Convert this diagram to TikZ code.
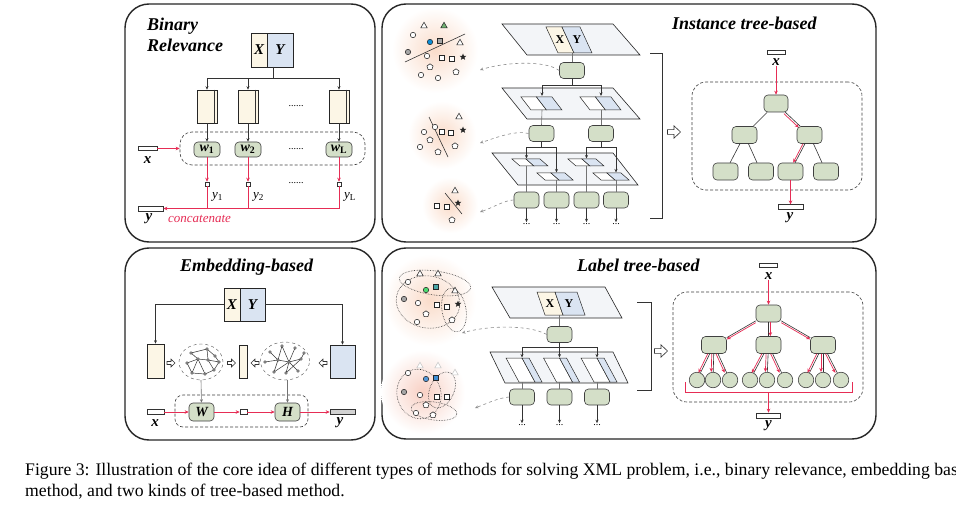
\documentclass[tikz,border=0pt]{standalone}
\usepackage{fontspec}
\setmainfont{Liberation Serif}
\usetikzlibrary{arrows.meta,shapes.geometric,calc}
\definecolor{cream}{RGB}{252,246,230}
\definecolor{lblue}{RGB}{218,228,242}
\definecolor{ngreen}{RGB}{212,223,200}
\definecolor{planec}{RGB}{243,245,248}
\definecolor{cred}{RGB}{230,45,85}
\definecolor{glow}{RGB}{250,220,202}
\definecolor{glowb}{RGB}{248,208,196}
\newcommand\mypara[6][cell]{\draw[#1] (#2,#3) -- ++(#4,0) -- ++(#6,#5) -- ++(-#4,0) -- cycle;}
\newcommand\hollowarr[4][1]{\draw[black!80,fill=white,line width=0.6pt,shift={(#2,#3)},rotate=#4,scale=#1] (-6.5,-2.4) -- (0,-2.4) -- (0,-6.2) -- (6.5,0) -- (0,6.2) -- (0,2.4) -- (-6.5,2.4) -- cycle;}
\newcommand\mk[3]{\node[#1] at (#2,#3) {};}
\newcommand\wsub[1]{{\bfseries\itshape w}\textsubscript{\bfseries #1}}
\begin{document}
\begin{tikzpicture}[x=1pt,y=-1pt,
  panel/.style={draw=black!85,line width=1.4pt,rounded corners=24pt},
  ttl/.style={font=\fontsize{18}{20}\selectfont\bfseries\itshape,inner sep=0},
  ln/.style={draw=black!80,line width=0.6pt},
  gln/.style={draw=black!55,line width=0.6pt},
  arr/.style={ln,-{Stealth[length=3.5pt,width=3pt]}},
  garr/.style={gln,-{Stealth[length=3.5pt,width=3pt]}},
  redarr/.style={draw=cred,line width=0.7pt,-{Stealth[length=4pt,width=3.5pt]}},
  redline/.style={draw=cred,line width=0.7pt},
  gnode/.style={draw=black!75,fill=ngreen,rounded corners=4pt,minimum width=25pt,minimum height=17pt,inner sep=0,line width=0.6pt,font=\fontsize{14}{14}\selectfont},
  leaf/.style={circle,draw=black!75,fill=ngreen,minimum size=15.5pt,inner sep=0,line width=0.6pt},
  dashbox/.style={draw=black!75,rounded corners=12pt,line width=0.6pt,dash pattern=on 3pt off 2pt},
  vec/.style={draw=black!80,fill=white,line width=0.6pt,inner sep=0,minimum height=4.5pt},
  sq/.style={draw=black!80,fill=white,line width=0.5pt,minimum size=4pt,inner sep=0},
  lbl/.style={font=\fontsize{15}{15}\selectfont\bfseries\itshape,inner sep=0},
  ylab/.style={font=\fontsize{13}{13}\selectfont,inner sep=0,anchor=west},
  ddd/.style={font=\fontsize{10}{10}\selectfont,inner sep=1pt},
  plane/.style={draw=black!85,fill=planec,line width=0.6pt},
  cell/.style={draw=black!85,fill=white,line width=0.5pt},
  xyx/.style={draw=black!85,fill=cream,minimum width=16pt,minimum height=34pt,inner sep=0,line width=0.6pt,font=\fontsize{15}{15}\selectfont\bfseries\itshape},
  xyy/.style={xyx,fill=lblue,minimum width=26pt},
  tbox/.style={draw=black!85,fill=cream,minimum width=20pt,minimum height=33pt,inner sep=0,line width=0.6pt},
  dgarr/.style={draw=black!45,dashed,line width=0.6pt,-{Stealth[length=3.5pt,width=3pt]}},
  mc/.style={circle,draw=black!85,fill=white,line width=0.55pt,minimum size=5.4pt,inner sep=0},
  mt/.style={regular polygon,regular polygon sides=3,draw=black!85,fill=white,line width=0.55pt,minimum size=7.5pt,inner sep=0},
  ms/.style={rectangle,draw=black!85,fill=white,line width=0.55pt,minimum size=5.4pt,inner sep=0},
  mst/.style={star,star points=5,star point ratio=2.3,fill=black!85,minimum size=7pt,inner sep=0},
  mp/.style={regular polygon,regular polygon sides=5,draw=black!85,fill=white,line width=0.55pt,minimum size=6.4pt,inner sep=0},
  dotell/.style={draw=black!80,densely dotted,line width=0.6pt},
  gedge/.style={draw=black!80,line width=0.5pt}
]
\useasboundingbox (0,0) rectangle (956,508);
\fill[white] (0,0) rectangle (956,508);

%================ Binary Relevance =================
\draw[panel] (125,4) rectangle (375,242);
\node[ttl,anchor=base west] (br-t1) at (147,31) {Binary};
\node[ttl,anchor=base west] (br-t2) at (147,52) {Relevance};
\node[xyx] (br-X) at (259,50) {X};
\node[xyy] (br-Y) at (280,50) {Y};
\coordinate (br-top) at (273,67);
\coordinate (br-j) at (273,78);
\node[tbox] (br-b1) at (207,106.5) {};
\node[tbox] (br-b2) at (248,106.5) {};
\node[tbox] (br-b3) at (339,106.5) {};
\foreach \b in {br-b1,br-b2,br-b3}
  \draw[ln] ([xshift=-3pt]\b.north east) -- ([xshift=-3pt]\b.south east);
\draw[ln] (br-top) -- (br-j);
\foreach \b in {br-b1,br-b2,br-b3} \draw[arr] (br-j) -| (\b.north);
\node[ddd] (br-d1) at (296,106) {......};
\node[dashbox,minimum width=185pt,minimum height=33pt] (br-box) at (272.5,148.5) {};
\node[gnode,minimum width=26pt,minimum height=15pt] (br-w1) at (207,149.5) {\wsub{1}};
\node[gnode,minimum width=26pt,minimum height=15pt] (br-w2) at (248,149.5) {\wsub{2}};
\node[gnode,minimum width=26pt,minimum height=15pt] (br-w3) at (339,149.5) {\wsub{L}};
\foreach \i in {1,2,3} \draw[arr] (br-b\i) -- (br-w\i);
\node[ddd] (br-d2) at (296,149) {......};
\node[vec,minimum width=19pt] (br-x) at (147.5,148.5) {};
\node[lbl] (br-xl) at (147.5,160) {x};
\draw[redarr] (br-x.east) -- (br-box.west);
\node[sq] (br-s1) at (207,184) {};
\node[sq] (br-s2) at (248,184) {};
\node[sq] (br-s3) at (339,184) {};
\foreach \i in {1,2,3} \draw[redarr] (br-w\i) -- (br-s\i);
\node[ddd] (br-d3) at (296,183) {......};
\node[vec,minimum width=25pt,minimum height=5pt] (br-y) at (150.5,208.5) {};
\node[lbl] (br-yl) at (149,219) {y};
\draw[redarr] (br-s3.south) |- (br-y.east);
\draw[redline] (br-s1.south) -- (br-s1.south |- br-y.east);
\draw[redline] (br-s2.south) -- (br-s2.south |- br-y.east);
\node[ylab] (br-y1) at (212,197) {\textit{y}\textsubscript{1}};
\node[ylab] (br-y2) at (253,197) {\textit{y}\textsubscript{2}};
\node[ylab] (br-y3) at (344,197) {\textit{y}\textsubscript{L}};
\node[font=\fontsize{13}{13}\selectfont\itshape,text=cred,anchor=west,inner sep=0] (br-cc) at (168,218.5) {concatenate};

%================ Embedding-based =================
\draw[panel] (125,248) rectangle (375,440);
\node[ttl,anchor=base west] (em-t) at (180,271) {Embedding-based};
\node[xyx,minimum height=33pt] (em-X) at (232,304.5) {X};
\node[xyy,minimum width=25pt,minimum height=33pt] (em-Y) at (252.5,304.5) {Y};
\node[tbox,minimum width=17pt,minimum height=34pt] (em-L) at (155.5,361) {};
\node[tbox,fill=lblue,minimum width=25pt,minimum height=33pt] (em-R) at (342.5,361.5) {};
\node[tbox,minimum width=8pt,minimum height=33pt] (em-M) at (243,361.5) {};
\draw[arr] (em-X.west) -| (em-L.north);
\draw[arr] (em-Y.east) -| (em-R.north);
\node[ellipse,draw=black!70,dashed,minimum width=44pt,minimum height=36pt,inner sep=0] (em-e1) at (201,362) {};
\node[ellipse,draw=black!70,dashed,minimum width=49pt,minimum height=38pt,inner sep=0] (em-e2) at (285,361) {};
\hollowarr[0.62]{171}{363}{0}
\hollowarr[0.62]{231.5}{363}{0}
\hollowarr[0.62]{255}{363}{180}
\hollowarr[0.62]{323}{363}{180}
\begin{scope}[shift={(201,362)}]
  \draw[gedge] (-10,-9) -- (6,-13) -- (14,-6) -- (18,0) -- (13,8) -- (4,12) -- (-9,11) -- (-14,1) -- (-3,-3) -- (-10,-9);
  \draw[gedge] (6,-13) -- (7,-2) -- (-3,-3) -- (4,12);
  \draw[gedge] (7,-2) -- (13,8); \draw[gedge] (7,-2) -- (18,0); \draw[gedge] (-3,-3) -- (-9,11);
  \foreach \x/\y in {-10/-9,6/-13,14/-6,18/0,13/8,4/12,-9/11,-14/1,-3/-3,7/-2}
    \draw[fill=white,line width=0.4pt] (\x,\y) circle (1.3);
\end{scope}
\begin{scope}[shift={(285,361)}]
  \draw[gedge] (-15,-9) -- (-7,-1) -- (-20,1);
  \draw[gedge] (-3,-15) -- (-7,-1) -- (4,1) -- (10,-13);
  \draw[gedge] (-3,-15) -- (4,1) -- (16,-2) -- (19,-8);
  \draw[gedge] (-7,-1) -- (-11,11); \draw[gedge] (4,1) -- (1,12) -- (16,-2);
  \draw[gedge] (4,1) -- (13,10); \draw[gedge] (-11,11) -- (4,1);
  \foreach \x/\y in {-15/-9,-3/-15,10/-13,19/-8,-20/1,-7/-1,4/1,16/-2,-11/11,1/12,13/10}
    \draw[fill=white,line width=0.4pt] (\x,\y) circle (1.3);
\end{scope}
\node[dashbox,minimum width=133pt,minimum height=32pt,rounded corners=8pt] (em-box) at (241.5,411) {};
\node[gnode,minimum height=18pt] (em-W) at (201.5,412) {\bfseries\itshape W};
\node[gnode,minimum height=18pt] (em-H) at (287.5,412) {\bfseries\itshape H};
\draw[garr] (em-e1.south) -- (em-W.north);
\draw[garr] (em-e2.south -| em-H.north) -- (em-H.north);
\node[vec,minimum width=17pt] (em-x) at (155.5,412) {};
\node[vec,minimum width=7pt] (em-m) at (243.5,412) {};
\node[vec,minimum width=25pt,minimum height=5pt,fill=gray!35] (em-y) at (342.5,412) {};
\draw[redarr] (em-x.east) -- (em-W.west);
\draw[redarr] (em-W.east) -- (em-m.west);
\draw[redarr] (em-m.east) -- (em-H.west);
\draw[redarr] (em-H.east) -- (em-y.west);
\node[lbl] (em-xl) at (155,423) {x};
\node[lbl] (em-yl) at (340,423) {y};

%================ Instance tree-based =================
\draw[panel] (382,4) rectangle (876,242);
\node[ttl,anchor=base west] (it-t) at (672,30) {Instance tree-based};
% clouds
\shade[inner color=glow,outer color=white] (435,50) circle (43);
\shade[inner color=glow,outer color=white] (442,135) circle (34);
\shade[inner color=glow,outer color=white] (450,205) circle (28);
\draw[ln] (405,62) -- (465,34);
\mk{mt}{424}{26} \mk{mt,fill=green!45!black!55}{444}{26} \mk{mc}{413}{35}
\mk{mc,fill=cyan!75!blue}{430}{42} \mk{ms,fill=gray!70}{440}{41} \mk{mt}{460}{43}
\mk{mc,fill=gray!70}{408}{52} \mk{mc}{427}{56} \mk{ms}{442}{58} \mk{ms}{452}{59}
\mk{mst}{463}{57} \mk{mp}{430}{67} \mk{mc}{421}{75} \mk{mc}{438}{78} \mk{mp}{456}{72}
\draw[ln] (429,117) -- (448,157);
\mk{mt}{459}{117} \mk{mc}{435}{127} \mk{ms}{442}{132} \mk{ms}{451}{133} \mk{mst}{463}{130}
\mk{mc}{424}{132} \mk{mp}{430}{140} \mk{mc}{420}{147} \mk{mp}{438}{152} \mk{mp}{455}{146}
\draw[ln] (445,193) -- (462,214);
\mk{mt}{455}{191} \mk{ms}{437}{206} \mk{ms}{447}{207} \mk{mst}{458}{203} \mk{mp}{452}{220}
% planes
\draw[plane] (502,24) -- (613,24) -- (640,55) -- (527,55) -- cycle;
\mypara[cell,fill=cream]{546}{27}{16}{26}{12}
\mypara[cell,fill=lblue]{562}{27}{18}{26}{12}
\node[font=\fontsize{12}{12}\selectfont\bfseries,inner sep=0] (it-X) at (560,40) {X};
\node[font=\fontsize{12}{12}\selectfont\bfseries,inner sep=0] (it-Y) at (577,40) {Y};
\draw[plane] (502,88) -- (613,88) -- (640,119) -- (527,119) -- cycle;
\mypara{521}{97}{15.5}{13}{10}
\mypara[cell,fill=lblue]{536.5}{97}{15.5}{13}{10}
\mypara{580}{97}{15.5}{13}{10}
\mypara[cell,fill=lblue]{595.5}{97}{15.5}{13}{10}
\draw[plane] (492,153) -- (613,153) -- (638,185) -- (518,185) -- cycle;
\foreach \px/\py in {512/159,537/173,568/159,593/173}{
  \mypara{\px}{\py}{14}{7}{8}
  \mypara[cell,fill=lblue]{\px+14}{\py}{14}{7}{8}
}
% nodes
\node[gnode,minimum height=16pt] (it-n1) at (572,70.5) {};
\node[gnode,minimum height=16pt] (it-n2a) at (541.5,133.5) {};
\node[gnode,minimum height=16pt] (it-n2b) at (601,133.5) {};
\node[gnode,minimum height=16pt] (it-n3a) at (526.5,200) {};
\node[gnode,minimum height=16pt] (it-n3b) at (556.5,200) {};
\node[gnode,minimum height=16pt] (it-n3c) at (586.5,200) {};
\node[gnode,minimum height=16pt] (it-n3d) at (616,200) {};
\draw[gln] (572,53) -- (it-n1.north);
\coordinate (it-j1) at (572,85);
\coordinate (it-t2a) at (542,96); \coordinate (it-t2b) at (601,96);
\draw[ln] (it-n1.south) -- (it-j1);
\draw[arr] (it-j1) -| (it-t2a); \draw[arr] (it-j1) -| (it-t2b);
\draw[gln] (542,110) -- (it-n2a.north); \draw[gln] (601,110) -- (it-n2b.north);
\coordinate (it-j2a) at (541.5,147); \coordinate (it-j2b) at (601,147);
\coordinate (it-t3a) at (526.5,158.5); \coordinate (it-t3b) at (556.5,172.5);
\coordinate (it-t3c) at (586.5,158.5); \coordinate (it-t3d) at (616,172.5);
\draw[ln] (it-n2a.south) -- (it-j2a); \draw[ln] (it-n2b.south) -- (it-j2b);
\draw[arr] (it-j2a) -| (it-t3a); \draw[arr] (it-j2a) -| (it-t3b);
\draw[arr] (it-j2b) -| (it-t3c); \draw[arr] (it-j2b) -| (it-t3d);
\draw[gln] (526.5,166) -- (it-n3a.north); \draw[gln] (556.5,180) -- (it-n3b.north);
\draw[gln] (586.5,166) -- (it-n3c.north); \draw[gln] (616,180) -- (it-n3d.north);
\foreach \n/\xx in {a/526.5,b/556.5,c/586.5,d/616}{
  \node[ddd] (it-d\n) at (\xx,224) {...};
  \draw[arr] (it-n3\n.south) -- (it-d\n.north);
}
\coordinate (it-c1) at (480,70); \coordinate (it-c2) at (480,143); \coordinate (it-c3) at (480,212);
\draw[dgarr] (it-n1.west) .. controls (545,60) and (505,62) .. (it-c1);
\draw[dgarr] (it-n2a.west) .. controls (515,130) and (495,138) .. (it-c2);
\draw[dgarr] (it-n3a.west) .. controls (505,200) and (492,208) .. (it-c3);
\draw[ln] (650,53) -- (662,53) -- (662,218) -- (650,218);
\hollowarr{674}{132}{0}
% right tree
\node[dashbox,minimum width=170pt,minimum height=108pt,rounded corners=14pt] (it-box) at (777,136) {};
\node[vec,minimum width=18pt,minimum height=4pt] (it-x) at (776,52.5) {};
\node[lbl] (it-xl) at (776,62) {x};
\node[gnode,minimum width=24pt] (it-root) at (776,103.5) {};
\node[gnode] (it-a) at (744.5,135) {};
\node[gnode] (it-b) at (809.5,135) {};
\node[gnode] (it-l1) at (725.5,171.5) {};
\node[gnode] (it-l2) at (761,171.5) {};
\node[gnode] (it-l3) at (790.5,171.5) {};
\node[gnode] (it-l4) at (826,171.5) {};
\draw[ln] (it-root) -- (it-a); \draw[ln] (it-root) -- (it-b);
\draw[ln] (it-a) -- (it-l1); \draw[ln] (it-a) -- (it-l2);
\draw[ln] (it-b) -- (it-l3); \draw[ln] (it-b) -- (it-l4);
\draw[redarr,transform canvas={xshift=-1.4pt,yshift=-1.4pt}] (it-root) -- (it-b);
\draw[redarr,transform canvas={xshift=-1.9pt}] (it-b) -- (it-l3);
\draw[redarr] (it-xl.south) -- (it-root.north);
\node[vec,minimum width=25pt,minimum height=4.5pt] (it-y) at (790.5,207) {};
\node[lbl] (it-yl) at (790,218) {y};
\draw[redarr] (it-l3.south) -- (it-y.north);

%================ Label tree-based =================
\draw[panel] (382,248) rectangle (876,439);
\node[ttl,anchor=base west] (lt-t) at (577,271) {Label tree-based};
\shade[inner color=glow,outer color=white] (430,300) circle (46);
\shade[inner color=glowb,outer color=white] (423,392) circle (42);
\draw[dotell,rotate around={-8:(435,283)}] (435,283) ellipse [x radius=36,y radius=12];
\draw[dotell,rotate around={-10:(428,302)}] (428,302) ellipse [x radius=32,y radius=26];
\draw[dotell,rotate around={10:(454,310)}] (454,310) ellipse [x radius=12,y radius=22];
\mk{mt}{420}{274} \mk{mt}{438}{274} \mk{mc}{408}{282}
\mk{mc,fill=green!60!teal!70}{426}{290} \mk{ms,fill=teal!70}{436}{287} \mk{mt}{455}{291}
\mk{mc,fill=gray!70}{404}{299} \mk{mc}{418}{303} \mk{ms}{437}{305} \mk{ms}{447}{307}
\mk{mst}{458}{304} \mk{mp}{426}{314} \mk{mc}{417}{322} \mk{mp}{452}{320}
\draw[dotell,rotate around={15:(419,394)}] (419,394) ellipse [x radius=22,y radius=25];
\draw[dotell,rotate around={-25:(442,390)}] (442,390) ellipse [x radius=12,y radius=19];
\draw[dotell,rotate around={-8:(434,411)}] (434,411) ellipse [x radius=23,y radius=9];
\mk{mt,draw=gray!45}{420}{366} \mk{mt,draw=gray!45}{438}{366} \mk{mt,draw=gray!45}{455}{373}
\mk{mc}{408}{373} \mk{mc,fill=cyan!60!blue!70}{426}{379} \mk{ms,fill=cyan!60!blue!80}{436}{378}
\mk{mc,fill=gray!70}{404}{392} \mk{mc}{420}{395} \mk{ms}{437}{397} \mk{ms}{447}{397}
\mk{mp}{426}{405} \mk{mc}{416}{413} \mk{mp}{433}{415}
% planes
\draw[plane] (492,287) -- (605,287) -- (622,318) -- (510,318) -- cycle;
\mypara[cell,fill=cream]{537}{292}{18}{23}{8}
\mypara[cell,fill=lblue]{555}{292}{22}{23}{8}
\node[font=\fontsize{12}{12}\selectfont\bfseries,inner sep=0] (lt-X) at (550,303.5) {X};
\node[font=\fontsize{12}{12}\selectfont\bfseries,inner sep=0] (lt-Y) at (569,303.5) {Y};
\draw[plane] (490,352) -- (613,352) -- (628,383) -- (505,383) -- cycle;
\foreach \gx in {506,543.5,581}{
  \mypara{\gx}{358}{16}{24}{13}
  \mypara[cell,fill=lblue]{\gx+16}{358}{7}{24}{13}
}
\node[gnode,minimum height=16pt] (lt-n1) at (559.5,334.5) {};
\node[gnode,minimum height=16pt] (lt-n2a) at (522,397) {};
\node[gnode,minimum height=16pt] (lt-n2b) at (559.5,397) {};
\node[gnode,minimum height=16pt] (lt-n2c) at (597,397) {};
\draw[gln] (559.5,315) -- (lt-n1.north);
\coordinate (lt-j1) at (559.5,347);
\coordinate (lt-ta) at (522,357.5); \coordinate (lt-tb) at (559.5,357.5); \coordinate (lt-tc) at (597,357.5);
\draw[ln] (lt-n1.south) -- (lt-j1);
\draw[arr] (lt-j1) -| (lt-ta); \draw[arr] (lt-j1) -- (lt-tb); \draw[arr] (lt-j1) -| (lt-tc);
\draw[gln] (522,382) -- (lt-n2a.north); \draw[gln] (559.5,382) -- (lt-n2b.north); \draw[gln] (597,382) -- (lt-n2c.north);
\foreach \n/\xx in {a/522,b/559.5,c/597}{
  \node[ddd] (lt-d\n) at (\xx,425) {...};
  \draw[arr] (lt-n2\n.south) -- (lt-d\n.north);
}
\coordinate (lt-c1) at (462,333); \coordinate (lt-c2) at (475,408);
\draw[dgarr] (lt-n1.west) .. controls (530,325) and (490,325) .. (lt-c1);
\draw[dgarr] (lt-n2a.west) .. controls (498,398) and (488,403) .. (lt-c2);
\draw[ln] (637,302) -- (651,302) -- (651,390) -- (637,390);
\hollowarr{661}{351}{0}
% right tree
\node[dashbox,minimum width=190pt,minimum height=110pt,rounded corners=14pt] (lt-box) at (768,347) {};
\node[vec,minimum width=18pt,minimum height=4.5pt] (lt-x) at (768.5,265.5) {};
\node[lbl] (lt-xl) at (768.5,276) {x};
\node[gnode] (lt-root) at (768.5,313.5) {};
\node[gnode] (lt-A) at (714,345) {};
\node[gnode] (lt-B) at (768.5,345) {};
\node[gnode] (lt-C) at (823,345) {};
\foreach \i/\xx in {1/697,2/713,3/730,4/750,5/767,6/785,7/806,8/823,9/841}
  \node[leaf] (lt-f\i) at (\xx,380) {};
\draw[redarr] (lt-xl.south) -- (lt-root.north);
\draw[ln] (lt-root) -- (lt-A); \draw[ln] (lt-root) -- (lt-B); \draw[ln] (lt-root) -- (lt-C);
\draw[redarr,transform canvas={yshift=-1.8pt}] (lt-root) -- (lt-A);
\draw[redarr,transform canvas={xshift=1.8pt}] (lt-root) -- (lt-B);
\draw[redarr,transform canvas={yshift=-1.8pt}] (lt-root) -- (lt-C);
\foreach \p/\c in {A/1,A/2,A/3,B/4,B/5,B/6,C/7,C/8,C/9}{
  \draw[ln] (lt-\p) -- (lt-f\c);
  \draw[redarr,transform canvas={xshift=-2pt}] (lt-\p) -- (lt-f\c);
}
\coordinate (lt-bc) at (768.5,392);
\draw[redline] (685,382) -- (685,392) -- (852,392) -- (852,382);
\node[vec,minimum width=24pt,minimum height=5pt] (lt-y) at (768.5,415.5) {};
\node[lbl] (lt-yl) at (768.5,426) {y};
\draw[redarr] (lt-bc) -- (lt-y.north);

%================ Caption =================
\node[anchor=base west,inner sep=0,font=\fontsize{17.7}{20}\selectfont] (cap1) at (25,475) {Figure 3: Illustration of the core idea of different types of methods for solving XML problem, i.e., binary relevance, embedding bas};
\node[anchor=base west,inner sep=0,font=\fontsize{17.7}{20}\selectfont] (cap2) at (25,496) {method, and two kinds of tree-based method.};
\end{tikzpicture}
\end{document}
